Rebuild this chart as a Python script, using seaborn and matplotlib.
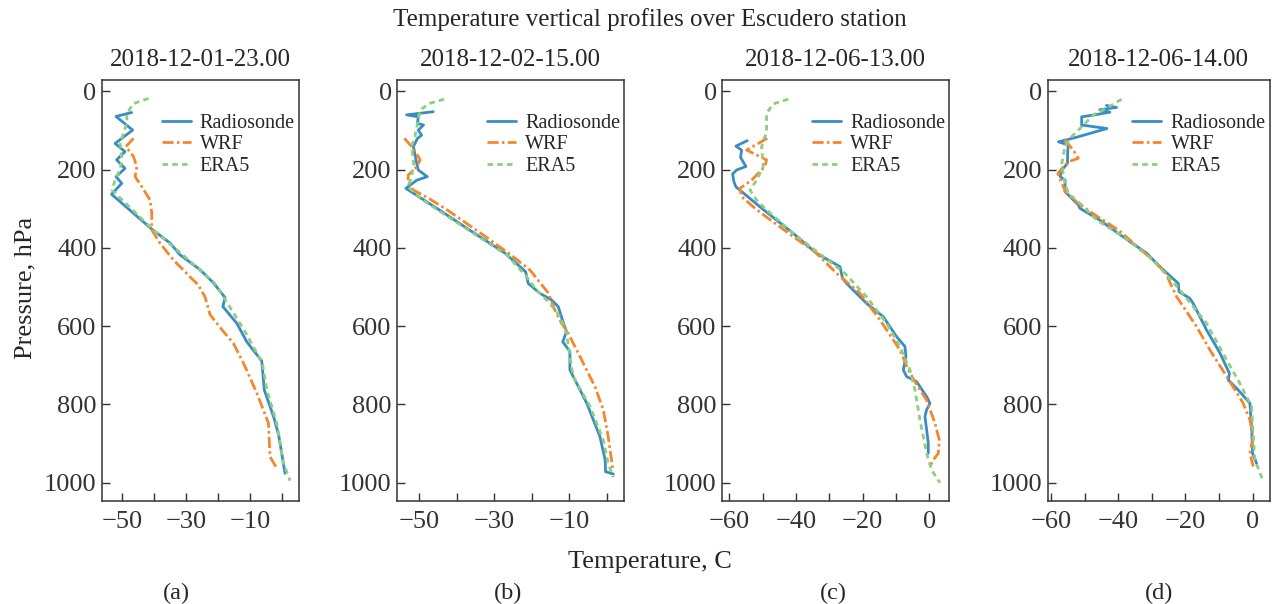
import pandas as pd
import matplotlib
matplotlib.use("Agg")
import matplotlib.pyplot as plt
import seaborn as sns

# ========== 1. Data (T in C, P in hPa) ==========
titles = ["2018-12-01-23.00", "2018-12-02-15.00", "2018-12-06-13.00", "2018-12-06-14.00"]
tags = ["(a)", "(b)", "(c)", "(d)"]
sources = ["Radiosonde", "WRF", "ERA5"]

# panel (a)
a_rs_p = [54, 64, 99, 133, 154, 175, 197, 218, 235, 263, 352, 388, 418, 456, 490, 527, 550, 593, 640, 689, 763, 831, 878, 976]
a_rs_t = [-47.1, -52.0, -46.8, -52.3, -49.2, -51.8, -49.2, -52.0, -50.2, -53.4, -40.8, -35.0, -31.9, -25.6, -21.4, -17.8,
          -18.5, -14.1, -11.0, -6.3, -5.5, -2.6, -1.0, 1.0]
a_wrf_p = [120, 141, 167, 193, 218, 244, 278, 312, 354, 388, 431, 474, 495, 525, 571, 614, 644, 695, 772, 848, 934, 963]
a_wrf_t = [-46.5, -48.9, -46.5, -45.5, -46.0, -43.9, -41.3, -40.8, -40.8, -38.2, -34.0, -28.8, -26.2, -24.1, -22.5, -18.3,
           -15.2, -12.0, -7.8, -4.2, -3.7, -1.6]
a_era_p = [18, 31, 56, 81, 107, 133, 175, 197, 227, 252, 352, 414, 490, 541, 610, 695, 763, 848, 950, 995]
a_era_t = [-41.8, -46.5, -48.6, -48.6, -49.7, -50.7, -50.2, -50.7, -52.3, -53.3, -40.6, -31.6, -21.1, -17.1, -11.8, -6.1,
           -4.7, -1.6, 0.5, 2.6]

# panel (b)
b_rs_p = [52, 60, 65, 82, 86, 99, 112, 120, 141, 175, 201, 218, 227, 248, 303, 359, 414, 461, 491, 516, 533, 550, 593,
          614, 640, 665, 712, 797, 882, 942, 972, 978]
b_rs_t = [-46.2, -53.3, -50.2, -50.4, -48.8, -50.2, -49.3, -50.4, -51.5, -50.8, -50.2, -47.8, -50.6, -53.5, -44.6, -35.8,
          -27.0, -21.6, -20.9, -17.8, -14.7, -12.9, -11.5, -10.7, -11.7, -9.8, -9.8, -5.3, -1.8, -0.4, -0.3, 1.8]
b_wrf_p = [120, 146, 175, 193, 214, 235, 252, 273, 299, 363, 418, 457, 516, 559, 593, 610, 678, 755, 814, 882, 963]
b_wrf_t = [-53.9, -51.5, -49.7, -50.6, -52.9, -52.9, -51.5, -47.5, -43.1, -33.5, -25.5, -20.4, -15.5, -13.8, -12.0,
           -10.7, -7.1, -3.1, -0.9, 0.4, 1.6]
b_era_p = [20, 31, 48, 82, 116, 141, 184, 218, 244, 273, 307, 363, 418, 474, 508, 542, 576, 618, 678, 729, 806, 891, 951, 986]
b_era_t = [-43.3, -47.3, -49.7, -50.4, -51.1, -52.0, -51.4, -52.0, -52.9, -49.7, -44.4, -35.5, -26.6, -21.3, -18.7,
           -15.1, -12.4, -10.7, -9.8, -8.9, -4.4, -0.9, 0.4, 1.8]

# panel (c)
c_rs_p = [126, 140, 150, 169, 192, 201, 211, 231, 244, 295, 363, 414, 448, 478, 491, 542, 576, 627, 652, 678, 712, 729,
          742, 780, 797, 814, 831, 865, 899, 925]
c_rs_t = [-54.6, -58.0, -56.3, -56.6, -55.0, -57.8, -59.0, -58.6, -58.0, -50.8, -40.8, -33.8, -26.8, -26.0, -24.8,
          -18.8, -13.8, -9.8, -7.3, -7.0, -7.8, -6.8, -3.8, -0.8, 0.2, -0.8, -1.3, -0.8, -0.3, -0.3]
c_wrf_p = [120, 150, 175, 192, 227, 248, 269, 295, 312, 367, 410, 465, 516, 584, 661, 712, 742, 789, 848, 891, 925, 942, 959]
c_wrf_t = [-48.6, -54.8, -48.8, -49.3, -53.3, -56.8, -56.3, -52.8, -50.3, -41.5, -34.3, -27.8, -20.8, -14.8, -8.8,
           -6.3, -4.3, -0.8, 1.7, 3.0, 2.7, 1.2, 0.2]
c_era_p = [20, 32, 56, 103, 141, 192, 227, 252, 278, 303, 363, 465, 525, 593, 652, 712, 763, 840, 925, 968, 1000]
c_era_t = [-42.3, -46.8, -48.8, -48.8, -50.3, -49.8, -51.8, -53.8, -51.8, -48.8, -40.8, -25.3, -18.8, -12.8, -8.8,
           -5.8, -4.3, -2.8, -0.8, 0.7, 3.2]

# panel (d)
d_rs_p = [36, 41, 47, 53, 60, 65, 86, 95, 116, 129, 137, 160, 184, 201, 218, 227, 256, 290, 299, 329, 363, 414, 448,
          491, 512, 529, 542, 610, 669, 721, 738, 763, 797, 857, 925, 951]
d_rs_t = [-43.5, -40.5, -45.5, -42.5, -47.0, -50.9, -50.9, -43.4, -51.9, -57.8, -54.9, -55.1, -55.1, -56.8, -57.3,
          -55.8, -55.9, -51.9, -51.4, -45.5, -40.0, -31.5, -27.6, -22.1, -21.9, -18.7, -17.7, -13.7, -9.7, -6.9, -7.2,
          -4.3, -0.8, -0.3, 0.0, 1.2]
d_wrf_p = [124, 150, 171, 180, 197, 210, 235, 261, 286, 316, 354, 414, 461, 525, 601, 661, 729, 797, 840, 882, 925, 959]
d_wrf_t = [-55.9, -53.4, -51.9, -54.9, -56.8, -58.0, -56.8, -55.4, -51.9, -46.9, -40.0, -32.0, -26.1, -22.6, -16.7,
           -12.7, -7.7, -2.8, -0.8, 0.2, -0.8, 0.2]
d_era_p = [20, 43, 60, 95, 116, 141, 184, 218, 261, 286, 329, 371, 431, 508, 593, 687, 746, 806, 882, 942, 997]
d_era_t = [-39.0, -43.5, -47.4, -51.4, -53.9, -55.9, -56.8, -56.3, -54.9, -51.4, -46.4, -38.5, -29.6, -21.6, -13.7,
           -7.7, -3.8, -0.3, 0.2, 0.7, 3.2]

panels = [
    [(a_rs_t, a_rs_p), (a_wrf_t, a_wrf_p), (a_era_t, a_era_p)],
    [(b_rs_t, b_rs_p), (b_wrf_t, b_wrf_p), (b_era_t, b_era_p)],
    [(c_rs_t, c_rs_p), (c_wrf_t, c_wrf_p), (c_era_t, c_era_p)],
    [(d_rs_t, d_rs_p), (d_wrf_t, d_wrf_p), (d_era_t, d_era_p)],
]

# ========== 2. Style ==========
sns.set_style("ticks")
plt.rcParams["font.family"] = ["Liberation Serif", "DejaVu Serif"]
plt.rcParams["axes.edgecolor"] = "#333333"
plt.rcParams["xtick.color"] = "#333333"
plt.rcParams["ytick.color"] = "#333333"
plt.rcParams["axes.linewidth"] = 1.1

palette = {"Radiosonde": "#3a8cc4", "WRF": "#f5862e", "ERA5": "#8ccf7e"}
dashes = {"Radiosonde": "", "WRF": (4.0, 1.2, 0.9, 1.2), "ERA5": (2.0, 1.5)}

# axes rectangles in figure fractions
positions = [
    [0.0802, 0.1705, 0.1549, 0.697],
    [0.3123, 0.1705, 0.1785, 0.697],
    [0.5678, 0.1705, 0.1785, 0.697],
    [0.8237, 0.1705, 0.1745, 0.697],
]
xlims = [(-56.4, 5.4), (-55.8, 4.7), (-62.1, 6.0), (-61.0, 5.1)]
xticks = [list(range(-50, 1, 10)), list(range(-50, 1, 10)), list(range(-60, 1, 10)), list(range(-60, 1, 10))]
xshown = [[-50, -30, -10], [-50, -30, -10], [-60, -40, -20, 0], [-60, -40, -20, 0]]
tag_x = [176, 508, 833, 1159]

fig = plt.figure(figsize=(12.72, 6.04), dpi=100)

for i, series in enumerate(panels):
    ax = fig.add_axes(positions[i])
    frames = []
    for name, (t, p) in zip(sources, series):
        frames.append(pd.DataFrame({"T": t, "P": p, "source": name}))
    df = pd.concat(frames, ignore_index=True)
    sns.lineplot(data=df, x="T", y="P", hue="source", style="source", palette=palette, dashes=dashes,
                 sort=False, estimator=None, linewidth=2.0, ax=ax)

    ax.set_xlim(*xlims[i])
    ax.set_ylim(1047, -29)
    ax.set_xticks(xticks[i])
    ax.set_xticklabels([f"{v}".replace("-", "\u2212") if v in xshown[i] else "" for v in xticks[i]])
    ax.set_yticks(range(0, 1001, 200))
    ax.tick_params(direction="in", length=6, width=1.0, labelsize=19)
    ax.tick_params(axis="x", pad=7)
    ax.tick_params(axis="y", pad=4)
    ax.set_xlabel("")
    ax.set_ylabel("")
    ax.set_title(titles[i], fontsize=18, pad=10)
    ax.legend(loc="upper right", bbox_to_anchor=(1.0, 0.93), frameon=False, fontsize=14.5,
              borderaxespad=0, borderpad=0.2, handlelength=1.45, handletextpad=0.45, labelspacing=0.12)
    fig.text(tag_x[i] / 1272, 1 - 593 / 604, tags[i], ha="center", va="center", fontsize=17.5)

fig.text(650 / 1272, 1 - 20 / 604, "Temperature vertical profiles over Escudero station",
         ha="center", va="center", fontsize=18)
fig.text(650 / 1272, 1 - 562 / 604, "Temperature, C", ha="center", va="center", fontsize=19)
fig.text(25 / 1272, 1 - 288 / 604, "Pressure, hPa", ha="center", va="center", rotation=90, fontsize=19)

fig.savefig("out.png", dpi=100)
plt.close(fig)
